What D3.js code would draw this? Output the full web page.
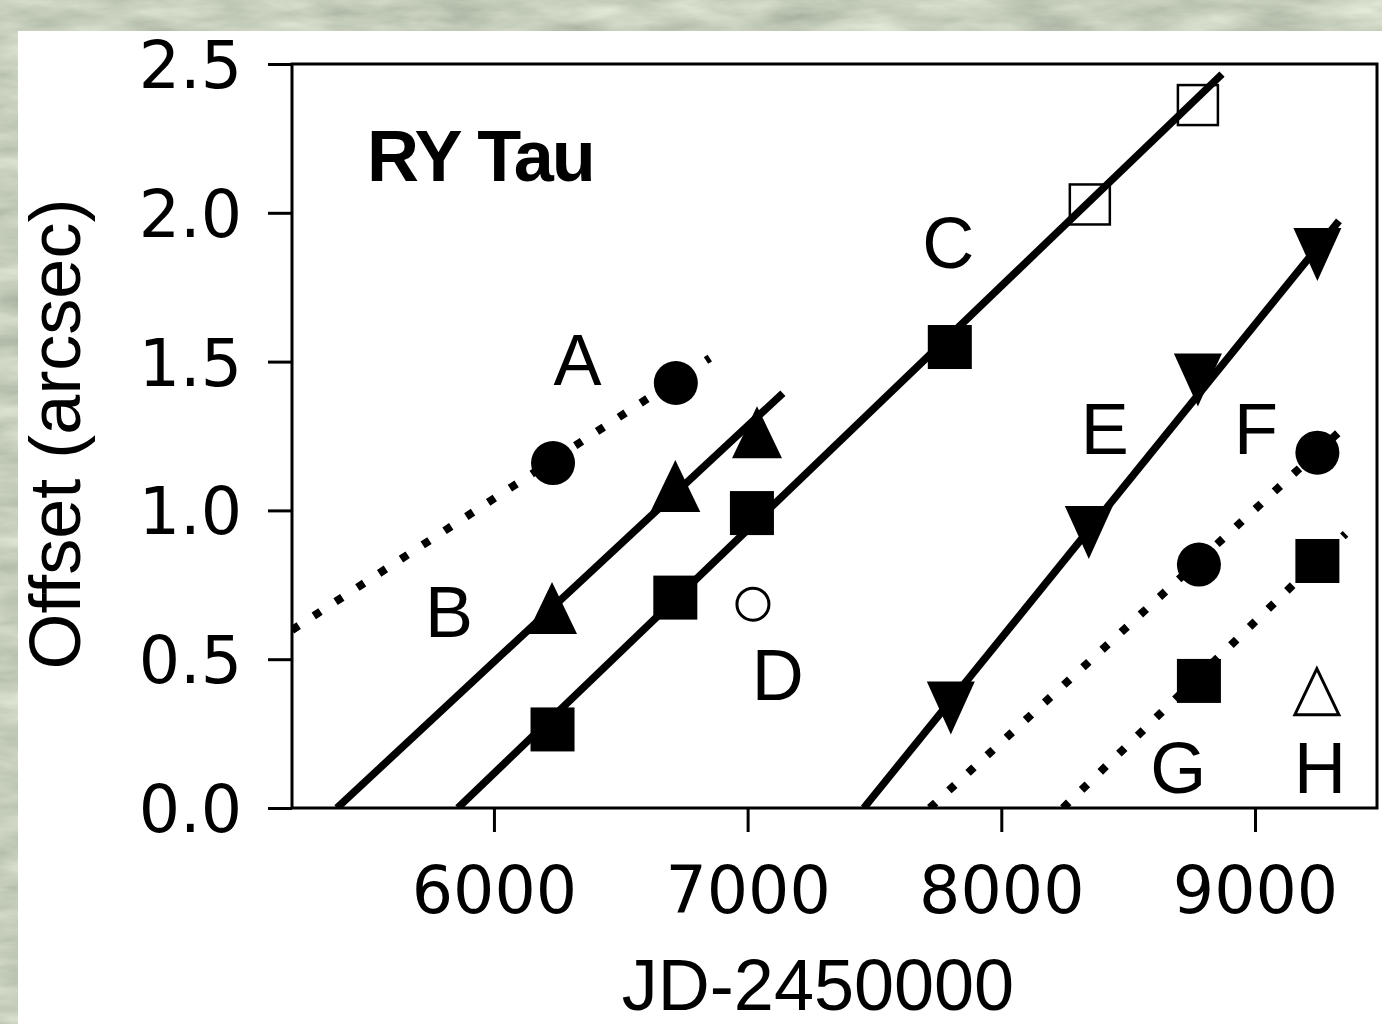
<!DOCTYPE html>
<html>
<head>
<meta charset="utf-8">
<script src="https://cdn.jsdelivr.net/npm/d3@7"></script>
<style>
  html, body { margin: 0; padding: 0; background: #c6cfba; }
  svg { display: block; }
</style>
</head>
<body>
<svg id="chart" width="1382" height="1024"></svg>
<script>
// ---------------- data ----------------
const xTicks = [6000, 7000, 8000, 9000];
const yTicks = [0.0, 0.5, 1.0, 1.5, 2.0, 2.5];

// knot A (filled circles)
const knotAx = [6233, 6717];
const knotAy = [1.159, 1.428];
// knot B (filled up-triangles)
const knotBx = [6229, 6715, 7037];
const knotBy = [0.672, 1.082, 1.263];
// knot C/D line (filled squares)
const knotDx = [6231, 6715, 7017, 7797];
const knotDy = [0.264, 0.707, 0.991, 1.549];
// open squares on C line
const openSqX = [8349, 8775];
const openSqY = [2.028, 2.362];
// open circle near D
const openCircX = [7021];
const openCircY = [0.685];
// knot E (filled down-triangles)
const knotEx = [7801, 8345, 8775, 9246];
const knotEy = [0.336, 0.926, 1.438, 1.860];
// knot F (filled circles)
const knotFx = [8779, 9246];
const knotFy = [0.818, 1.194];
// knot G (filled squares)
const knotGx = [8779, 9246];
const knotGy = [0.427, 0.830];
// knot H (open up-triangle)
const openTriX = [9244];
const openTriY = [0.391];

// fitted proper-motion lines: [start, end]
const lineAx = [5204, 6851], lineAy = [0.598, 1.512];   // dotted
const lineBx = [5381, 7139], lineBy = [0.0, 1.394];     // solid
const lineCx = [5858, 8870], lineCy = [0.0, 2.466];     // solid
const lineEx = [7458, 9331], lineEy = [0.0, 1.973];     // solid
const lineFx = [7718, 9331], lineFy = [0.0, 1.263];     // dotted
const lineGx = [8243, 9357], lineGy = [0.0, 0.921];     // dotted

// knot labels (data coords of label anchor / baseline)
const labelText = ["A", "B", "C", "D", "E", "F", "G", "H"];
const labelX = [6329, 5823, 7791, 7119, 8408, 9004, 8698, 9256];
const labelY = [1.421, 0.575, 1.815, 0.363, 1.190, 1.190, 0.050, 0.050];

const title = "RY Tau";
const titleX = 5500, titleY = 2.107;
const xLabel = "JD-2450000";
const yLabel = "Offset (arcsec)";

// ---------------- drawing ----------------
const svg = d3.select("#chart");
const defs = svg.append("defs");

// textured greenish background
const f = defs.append("filter").attr("id", "tex")
  .attr("x", 0).attr("y", 0).attr("width", "100%").attr("height", "100%")
  .attr("color-interpolation-filters", "sRGB");
f.append("feTurbulence").attr("type", "fractalNoise")
  .attr("baseFrequency", "0.012 0.045").attr("numOctaves", 4).attr("seed", 7);
f.append("feColorMatrix").attr("type", "matrix")
  .attr("values", "0.30 0 0 0 0.625  0.28 0 0 0 0.665  0.28 0 0 0 0.595  0 0 0 0 1");
svg.append("rect").attr("width", 1382).attr("height", 1024).attr("fill", "#c6cfba");
svg.append("rect").attr("width", 1382).attr("height", 1024).attr("filter", "url(#tex)");

// white panel
svg.append("rect").attr("x", 18).attr("y", 31).attr("width", 1364).attr("height", 993)
  .attr("fill", "#ffffff");

const x = d3.scaleLinear().domain([5204, 9481]).range([292, 1377]);
const y = d3.scaleLinear().domain([0, 2.5]).range([808, 64]);

defs.append("clipPath").attr("id", "plotclip").append("rect")
  .attr("x", x.range()[0]).attr("y", y.range()[1])
  .attr("width", x.range()[1] - x.range()[0])
  .attr("height", y.range()[0] - y.range()[1]);

const plot = svg.append("g").attr("clip-path", "url(#plotclip)");
const line = d3.line().x(d => x(d[0])).y(d => y(d[1]));

function drawLine(xs, ys, dotted) {
  plot.append("path")
    .attr("d", line(d3.zip(xs, ys)))
    .attr("fill", "none")
    .attr("stroke", "#000")
    .attr("stroke-width", dotted ? 8 : 7.5)
    .attr("stroke-linecap", "butt")
    .attr("stroke-dasharray", dotted ? "8,18" : null);
}
drawLine(lineAx, lineAy, true);
drawLine(lineBx, lineBy, false);
drawLine(lineCx, lineCy, false);
drawLine(lineEx, lineEy, false);
drawLine(lineFx, lineFy, true);
drawLine(lineGx, lineGy, true);

const marks = svg.append("g");
function circles(xs, ys, r, filled) {
  marks.selectAll(null).data(d3.zip(xs, ys)).join("circle")
    .attr("cx", d => x(d[0])).attr("cy", d => y(d[1])).attr("r", r)
    .attr("fill", filled ? "#000" : "#fff")
    .attr("stroke", "#000").attr("stroke-width", filled ? 0 : 3);
}
function squares(xs, ys, s, filled) {
  marks.selectAll(null).data(d3.zip(xs, ys)).join("rect")
    .attr("x", d => x(d[0]) - s / 2).attr("y", d => y(d[1]) - s / 2)
    .attr("width", s).attr("height", s)
    .attr("fill", filled ? "#000" : "none")
    .attr("stroke", filled ? "none" : "#000").attr("stroke-width", filled ? 0 : 2.5);
}
function triangles(xs, ys, w, h, up, filled) {
  marks.selectAll(null).data(d3.zip(xs, ys)).join("path")
    .attr("d", d => {
      const cx = x(d[0]), cy = y(d[1]);
      const s = up ? 1 : -1;
      return `M${cx},${cy - s * h / 2}L${cx - w / 2},${cy + s * h / 2}L${cx + w / 2},${cy + s * h / 2}Z`;
    })
    .attr("fill", filled ? "#000" : "#fff")
    .attr("stroke", "#000").attr("stroke-width", filled ? 0 : 3)
    .attr("stroke-linejoin", "miter");
}

circles(knotAx, knotAy, 22, true);
triangles(knotBx, knotBy, 50, 52, true, true);
squares(knotDx, knotDy, 44, true);
squares(openSqX, openSqY, 40, false);
circles(openCircX, openCircY, 16, false);
triangles(knotEx, knotEy, 48, 53, false, true);
circles(knotFx, knotFy, 22, true);
squares(knotGx, knotGy, 44, true);
triangles(openTriX, openTriY, 44, 46, true, false);

// labels
svg.append("g").selectAll("text").data(d3.range(labelText.length)).join("text")
  .attr("x", i => x(labelX[i])).attr("y", i => y(labelY[i]))
  .attr("text-anchor", "middle")
  .attr("font-family", "'Liberation Sans', Arial, sans-serif")
  .attr("font-size", 72).attr("fill", "#000")
  .text(i => labelText[i]);

svg.append("text")
  .attr("x", x(titleX)).attr("y", y(titleY))
  .attr("font-family", "'Liberation Sans', Arial, sans-serif")
  .attr("font-weight", "bold").attr("font-size", 72)
  .attr("letter-spacing", -2)
  .text(title);

// axes
const tickFont = "'DejaVu Sans', sans-serif";
const gx = svg.append("g").attr("transform", `translate(0,${y.range()[0]})`)
  .call(d3.axisBottom(x).tickValues(xTicks).tickSize(24).tickFormat(d3.format("d")));
gx.select(".domain").remove();
gx.selectAll("line").attr("stroke-width", 3);
gx.selectAll("text").attr("y", 105).attr("dy", null)
  .attr("font-family", tickFont).attr("font-size", 65).attr("fill", "#000");

const gy = svg.append("g").attr("transform", `translate(${x.range()[0]},0)`)
  .call(d3.axisLeft(y).tickValues(yTicks).tickSize(24).tickFormat(d3.format(".1f")));
gy.select(".domain").remove();
gy.selectAll("line").attr("stroke-width", 3);
gy.selectAll("text").attr("x", -50).attr("dy", "0.36em")
  .attr("font-family", tickFont).attr("font-size", 65).attr("fill", "#000");

// spines
svg.append("rect")
  .attr("x", x.range()[0]).attr("y", y.range()[1])
  .attr("width", x.range()[1] - x.range()[0])
  .attr("height", y.range()[0] - y.range()[1])
  .attr("fill", "none").attr("stroke", "#000").attr("stroke-width", 3);

// axis labels
svg.append("text").attr("x", 818).attr("y", 1010)
  .attr("text-anchor", "middle")
  .attr("font-family", "'Liberation Sans', Arial, sans-serif")
  .attr("font-size", 72).text(xLabel);

svg.append("text")
  .attr("transform", `translate(80,${(y.range()[0] + y.range()[1]) / 2 - 2}) rotate(-90)`)
  .attr("text-anchor", "middle")
  .attr("font-family", "'Liberation Sans', Arial, sans-serif")
  .attr("font-size", 72).text(yLabel);
</script>
</body>
</html>
